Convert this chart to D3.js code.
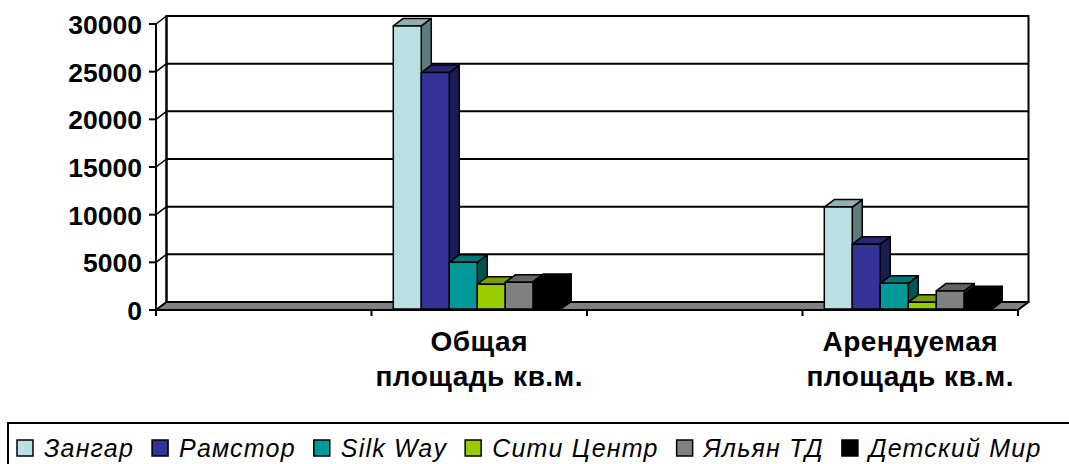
<!DOCTYPE html>
<html lang="ru">
<head>
<meta charset="utf-8">
<title>Площадь торговых центров</title>
<script src="https://d3js.org/d3.v7.min.js"></script>
<style>
 body { margin: 0; background: #fff; }
 text { font-family: "Liberation Sans", Arial, sans-serif; }
</style>
</head>
<body>
<script>
// categories (first and third are empty slots in the original chart)
var categories = ["", "Общая|площадь кв.м.", "", "Арендуемая|площадь кв.м."];
var seriesNames = ["Зангар", "Рамстор", "Silk Way", "Сити Центр", "Яльян ТД", "Детский Мир"];
var zangar   = [null, 29800, null, 10800];
var ramstor  = [null, 24900, null, 6900];
var silkWay  = [null, 5000,  null, 2800];
var sitiCentr = [null, 2700, null, 800];
var yalyan   = [null, 2900,  null, 2000];
var detskiy  = [null, 3000,  null, 1700];
var seriesValues = [zangar, ramstor, silkWay, sitiCentr, yalyan, detskiy];
var yTicks = [0, 5000, 10000, 15000, 20000, 25000, 30000];

var colors = ["#BBE0E3", "#333399", "#009999", "#99CC00", "#808080", "#000000"];

var W = 1069, H = 464;
var svg = d3.select("body").append("svg")
  .attr("width", W).attr("height", H);

// plot geometry (front plane + depth offset)
var plotLeft = 156, plotRight = 1018, plotBottom = 310, plotTop = 24;
var depth = {x: 10.5, y: -8};
var barDepth = {x: 10, y: -7.5};

var x0 = d3.scaleBand().domain(d3.range(categories.length)).range([plotLeft, plotRight]);
var x1 = d3.scaleBand().domain(d3.range(seriesNames.length))
  .range([-2, x0.bandwidth() - 2]).paddingInner(0).paddingOuter(0.85);
var y = d3.scaleLinear().domain([0, 30000]).range([plotBottom, plotTop]);

function pts(a) { return a.map(function (p) { return p.join(","); }).join(" "); }

// back wall
svg.append("rect")
  .attr("x", plotLeft + depth.x).attr("y", plotTop + depth.y)
  .attr("width", plotRight - plotLeft).attr("height", plotBottom - plotTop)
  .attr("fill", "#fff").attr("stroke", "#000").attr("stroke-width", 2);

// gridlines on back wall and side wall
yTicks.forEach(function (t) {
  svg.append("line")
    .attr("x1", plotLeft + depth.x).attr("x2", plotRight + depth.x)
    .attr("y1", y(t) + depth.y).attr("y2", y(t) + depth.y)
    .attr("stroke", "#000").attr("stroke-width", 2);
  svg.append("line")
    .attr("x1", plotLeft).attr("x2", plotLeft + depth.x)
    .attr("y1", y(t)).attr("y2", y(t) + depth.y)
    .attr("stroke", "#000").attr("stroke-width", 1.5);
});

// side wall edges
svg.append("line").attr("x1", plotLeft).attr("x2", plotLeft)
  .attr("y1", plotTop).attr("y2", plotBottom).attr("stroke", "#000").attr("stroke-width", 2);
svg.append("line").attr("x1", plotLeft + depth.x).attr("x2", plotLeft + depth.x)
  .attr("y1", plotTop + depth.y).attr("y2", plotBottom + depth.y).attr("stroke", "#000").attr("stroke-width", 2);

// floor
svg.append("polygon")
  .attr("points", pts([[plotLeft, plotBottom], [plotRight, plotBottom], [plotRight + depth.x, plotBottom + depth.y], [plotLeft + depth.x, plotBottom + depth.y]]))
  .attr("fill", "#808080").attr("stroke", "#000").attr("stroke-width", 2)
  .attr("stroke-linejoin", "round");

// y axis ticks + labels
var yAxis = svg.append("g");
yTicks.forEach(function (t) {
  yAxis.append("line").attr("x1", plotLeft - 7).attr("x2", plotLeft)
    .attr("y1", y(t)).attr("y2", y(t)).attr("stroke", "#000").attr("stroke-width", 2);
  yAxis.append("text").attr("x", 142).attr("y", y(t)).attr("dy", "0.38em")
    .attr("text-anchor", "end").attr("font-size", 26.5).attr("font-weight", "bold")
    .text(t);
});

// x axis ticks
var xTickPos = d3.range(categories.length).map(function (i) { return x0(i); }).concat([plotRight]);
xTickPos.forEach(function (p) {
  svg.append("line").attr("x1", p).attr("x2", p)
    .attr("y1", plotBottom).attr("y2", plotBottom + 6).attr("stroke", "#000").attr("stroke-width", 2);
});

// bars
var bars = svg.append("g");
categories.forEach(function (c, ci) {
  seriesValues.forEach(function (vals, si) {
    var v = vals[ci];
    if (v == null) return;
    var bx = x0(ci) + x1(si), bw = x1.bandwidth();
    var by = y(v), bb = y(0) - 1;
    var col = d3.rgb(colors[si]);
    var topCol = d3.rgb(col.r * 0.78, col.g * 0.78, col.b * 0.78);
    var sideCol = d3.rgb(col.r * 0.5, col.g * 0.55, col.b * 0.55);
    var g = bars.append("g").attr("stroke", "#000").attr("stroke-width", 1.5).attr("stroke-linejoin", "round");
    g.append("polygon")
      .attr("points", pts([[bx + bw, bb], [bx + bw + barDepth.x, bb + barDepth.y], [bx + bw + barDepth.x, by + barDepth.y], [bx + bw, by]]))
      .attr("fill", sideCol);
    g.append("polygon")
      .attr("points", pts([[bx, by], [bx + barDepth.x, by + barDepth.y], [bx + bw + barDepth.x, by + barDepth.y], [bx + bw, by]]))
      .attr("fill", topCol);
    g.append("rect").attr("x", bx).attr("y", by).attr("width", bw).attr("height", bb - by)
      .attr("fill", col);
  });
});

// category labels
categories.forEach(function (c, ci) {
  if (!c) return;
  var t = svg.append("text").attr("text-anchor", "middle")
    .attr("font-size", 28).attr("font-weight", "bold").attr("letter-spacing", 0.5);
  c.split("|").forEach(function (line, li) {
    t.append("tspan").attr("x", x0(ci) + x0.bandwidth() / 2).attr("y", 351 + li * 35).text(line);
  });
});

// legend
var legend = svg.append("g");
legend.append("rect").attr("x", 8).attr("y", 423).attr("width", W).attr("height", 60)
  .attr("fill", "#fff").attr("stroke", "#000").attr("stroke-width", 2);
var lx = 17;
seriesNames.forEach(function (name, i) {
  legend.append("rect").attr("x", lx).attr("y", 440).attr("width", 16).attr("height", 16)
    .attr("fill", colors[i]).attr("stroke", "#000").attr("stroke-width", 1.5);
  var t = legend.append("text").attr("x", lx + 27).attr("y", 457)
    .attr("font-size", 25).attr("letter-spacing", 1.2).attr("font-style", "italic").text(name);
  lx += 27 + t.node().getComputedTextLength() + 18;
});
</script>
</body>
</html>
